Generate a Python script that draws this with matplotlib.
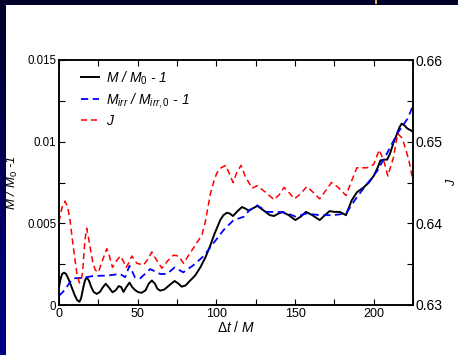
import numpy as np
import matplotlib
matplotlib.use("Agg")
import matplotlib.pyplot as plt
from matplotlib.ticker import MultipleLocator, FixedLocator, FixedFormatter
from matplotlib.colors import LinearSegmentedColormap

plt.rcParams['font.family'] = ['Liberation Sans', 'DejaVu Sans']
plt.rcParams['mathtext.fontset'] = 'custom'
plt.rcParams['mathtext.it'] = 'Liberation Sans:italic'
plt.rcParams['mathtext.rm'] = 'Liberation Sans'
plt.rcParams['mathtext.default'] = 'it'

# ---- data ----
t_M = [0, 1, 2, 3.2, 4.5, 6, 8, 10, 11.5, 13, 14, 15.5, 16.5, 17.6, 19, 20.5, 22, 24, 26, 28,
       29.7, 31.5, 34, 36, 38, 39.5, 41, 42.8, 44.8, 46.5, 48.5, 50.5, 52.6, 55, 57, 59, 61,
       62.5, 64.3, 67, 70, 73.5, 76, 78, 80.5, 83.4, 86.5, 89.8, 93, 96, 99, 102.5, 104.5,
       106.8, 108.5, 110.6, 113, 116.3, 118.5, 120.6, 123, 126, 128.5, 131.3, 134, 136.7,
       139.5, 142, 146, 150.2, 153.5, 157, 161, 165.7, 169, 172, 175, 178.5, 180.5, 182.4,
       184, 186, 189.3, 193.6, 197, 200, 202.5, 204.3, 206.5, 208.6, 210.5, 212.5, 214.5,
       216.5, 217.8, 219.5, 221.5, 223.5, 225]
M_rel = [0.0011, 0.0016, 0.0019, 0.00198, 0.0019, 0.0016, 0.0011, 0.0006, 0.0003, 0.0002,
         0.0004, 0.0011, 0.0015, 0.0017, 0.0015, 0.0011, 0.0008, 0.00068, 0.0008, 0.0011,
         0.0013, 0.0011, 0.00078, 0.0009, 0.00116, 0.0011, 0.0008, 0.0011, 0.00137, 0.0011,
         0.0009, 0.00078, 0.00075, 0.0009, 0.0013, 0.0015, 0.0013, 0.001, 0.00088, 0.00095,
         0.0012, 0.00147, 0.0013, 0.00112, 0.0012, 0.0015, 0.0018, 0.0023, 0.0029, 0.0036,
         0.0044, 0.0052, 0.0055, 0.00565, 0.0056, 0.00545, 0.0057, 0.006, 0.0059, 0.00578,
         0.0059, 0.00607, 0.0059, 0.0057, 0.0055, 0.00545, 0.0056, 0.0057, 0.0055, 0.0052,
         0.0054, 0.0057, 0.0055, 0.0052, 0.0055, 0.00575, 0.0057, 0.0057, 0.0056, 0.0055,
         0.0059, 0.0064, 0.0069, 0.0072, 0.0075, 0.0079, 0.0084, 0.00885, 0.0089, 0.0089,
         0.0093, 0.0099, 0.0104, 0.0109, 0.0111, 0.0110, 0.0108, 0.0107, 0.0106]

t_irr = [0, 2.5, 4.9, 7, 9.1, 15.5, 22, 30.4, 38.9, 42, 44.8, 48.4, 51.6, 58, 64.3, 68.6,
         73.5, 79, 85.6, 92, 98.3, 104.7, 111, 117.4, 121, 126, 132.4, 138.8, 144.2, 150.6,
         157, 165.7, 174.2, 182.4, 189.3, 195.7, 202.2, 208.6, 215, 221.5, 225]
Mirr_rel = [0.00057, 0.0008, 0.0011, 0.0014, 0.00163, 0.00167, 0.00178, 0.0018, 0.0019,
            0.0017, 0.0024, 0.00167, 0.00163, 0.0022, 0.0019, 0.0019, 0.0023, 0.002, 0.00245,
            0.003, 0.0038, 0.0046, 0.0052, 0.0054, 0.0058, 0.0061, 0.0057, 0.0057, 0.00565,
            0.0054, 0.0056, 0.0055, 0.0055, 0.0056, 0.0066, 0.0074, 0.0082, 0.0093, 0.0105,
            0.0114, 0.0122]

t_J = [0, 2, 3.8, 5.5, 7, 8.5, 10.2, 11.5, 13, 14, 15, 16.5, 17.6, 19.7, 21.5, 23, 25, 27.5,
       30.4, 32, 34, 36.5, 39, 40.8, 42.7, 44.5, 46.3, 49.5, 53.7, 56.5, 59, 62, 65.4, 69,
       72.8, 76, 79.2, 82.4, 86.6, 90.9, 93, 96.2, 98.5, 100.4, 103, 106, 108, 110.6, 113,
       115.7, 118.5, 122.7, 126, 131.3, 136.7, 140, 143.1, 146.5, 149.6, 153.5, 157.5, 161.5,
       165.7, 169.5, 173.2, 177.5, 182.4, 186, 189.3, 195.7, 200, 203.5, 206.5, 209, 212.5,
       215.3, 218.2, 220.5, 222.5, 225]
J = [0.6402, 0.6420, 0.6427, 0.6420, 0.6404, 0.6380, 0.6355, 0.6337, 0.6327, 0.6330, 0.6340,
     0.6380, 0.6394, 0.6372, 0.6352, 0.6343, 0.6340, 0.6354, 0.6369, 0.6360, 0.6346, 0.6354,
     0.6360, 0.6354, 0.6346, 0.6352, 0.6360, 0.6351, 0.6349, 0.6356, 0.6365, 0.6355, 0.6345,
     0.6354, 0.6361, 0.6360, 0.6351, 0.6361, 0.6373, 0.6386, 0.6402, 0.6436, 0.6452, 0.6462,
     0.6468, 0.6471, 0.6462, 0.6450, 0.6462, 0.6471, 0.6457, 0.6443, 0.6446, 0.6438, 0.6429,
     0.6435, 0.6444, 0.6437, 0.6430, 0.6436, 0.6445, 0.6438, 0.6430, 0.6440, 0.6450, 0.6444,
     0.6434, 0.6452, 0.6468, 0.6468, 0.6472, 0.6490, 0.6476, 0.6458, 0.6480, 0.6510, 0.6504,
     0.6490, 0.6476, 0.6452]

x_ticks = [0, 50, 100, 150, 200]
yl_ticks = [0, 0.005, 0.01, 0.015]
yl_labels = ["0", "0.005", "0.01", "0.015"]
yr_ticks = [0.63, 0.64, 0.65, 0.66]
yr_labels = ["0.63", "0.64", "0.65", "0.66"]

# ---- figure ----
W, H = 458, 355
fig = plt.figure(figsize=(W / 100, H / 100), dpi=100, facecolor='white')

# slide background strips (navy gradient)
bg = fig.add_axes([0, 0, 1, 1], zorder=-10)
bg.axis('off')
cmap = LinearSegmentedColormap.from_list('navy', ['#00002a', '#000088'])
grad = np.linspace(0, 1, 256).reshape(-1, 1)
bg.imshow(grad, cmap=cmap, extent=[0, 6, H, 0], aspect='auto')
bg.imshow(np.zeros((1, 2)), cmap=cmap, extent=[0, W, 5, 0], aspect='auto', vmin=0, vmax=1)
bg.add_patch(plt.Rectangle((375, 0), 2, 4, color='#d8b850', lw=0))
bg.set_xlim(0, W); bg.set_ylim(H, 0)

ax = fig.add_axes([59 / W, 50 / H, 354 / W, 245 / H])
ax2 = ax.twinx()

l1, = ax.plot(t_M, M_rel, color='black', lw=1.4, solid_joinstyle='round')
l2, = ax.plot(t_irr, Mirr_rel, color='blue', lw=1.3, dashes=(4, 2.5))
l3, = ax2.plot(t_J, J, color='red', lw=1.1, dashes=(4, 2.5))

ax.set_xlim(0, 225)
ax.set_ylim(0, 0.015)
ax2.set_ylim(0.63, 0.66)

ax.xaxis.set_major_locator(FixedLocator(x_ticks))
ax.xaxis.set_minor_locator(MultipleLocator(25))
ax.yaxis.set_major_locator(FixedLocator(yl_ticks))
ax.yaxis.set_major_formatter(FixedFormatter(yl_labels))
ax.yaxis.set_minor_locator(MultipleLocator(0.0025))
ax2.yaxis.set_major_locator(FixedLocator(yr_ticks))
ax2.yaxis.set_major_formatter(FixedFormatter(yr_labels))
ax2.yaxis.set_minor_locator(MultipleLocator(0.005))

ax.tick_params(axis='x', which='both', direction='in', top=True, length=4, width=0.8,
               labelsize=9, pad=2)
ax.tick_params(axis='y', which='both', direction='in', right=False, length=4, width=0.8,
               labelsize=8.3, pad=2)
ax2.tick_params(axis='y', which='both', direction='in', length=4, width=0.8,
                labelsize=10, pad=2)
for a in (ax, ax2):
    for s in a.spines.values():
        s.set_linewidth(1.1)

ax.set_xlabel(r'$\Delta t\ /\ M$', fontsize=10, labelpad=0)
ax.set_ylabel(r'M / M$_0$ -1', fontsize=9.5, style='italic', labelpad=5)
ax2.set_ylabel('J', fontsize=9, style='italic')
ax2.yaxis.set_label_coords((446 - 59) / 354, 0.5)

leg = ax.legend([l1, l2, l3],
                [r'M / M$_0$ - 1', r'M$_{irr}$ / M$_{irr,0}$ - 1', 'J'],
                loc='upper left', bbox_to_anchor=(0.062, 0.962), frameon=False,
                fontsize=10, handlelength=1.3, handletextpad=0.5, labelspacing=0.3,
                borderaxespad=0, borderpad=0)
for txt in leg.get_texts():
    txt.set_fontstyle('italic')

fig.savefig('out.png', dpi=100, facecolor='white')
